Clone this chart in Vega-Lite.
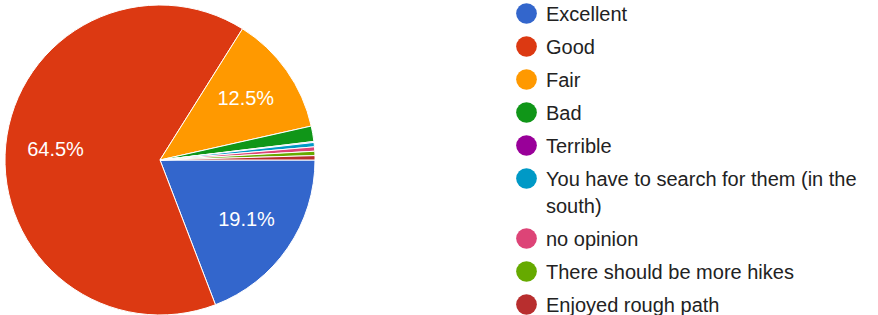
{
  "$schema": "https://vega.github.io/schema/vega-lite/v6.json",
  "width": 320,
  "height": 320,
  "padding": 0,
  "autosize": {"type": "pad"},
  "background": "white",
  "config": {
    "view": {"stroke": null},
    "style": {"guide-label": {"lineHeight": 27, "dy": 7}}
  },
  "data": {
    "values": [
      {"answer": "Excellent", "o": 1, "pct": 19.1, "label": "19.1%"},
      {"answer": "Good", "o": 2, "pct": 64.5, "label": "64.5%"},
      {"answer": "Fair", "o": 3, "pct": 12.5, "label": "12.5%"},
      {"answer": "Bad", "o": 4, "pct": 1.6, "label": ""},
      {"answer": "Terrible", "o": 5, "pct": 0.1, "label": ""},
      {"answer": "You have to search for them (in the south)", "o": 6, "pct": 0.45, "label": ""},
      {"answer": "no opinion", "o": 7, "pct": 0.45, "label": ""},
      {"answer": "There should be more hikes", "o": 8, "pct": 0.45, "label": ""},
      {"answer": "Enjoyed rough path", "o": 9, "pct": 0.45, "label": ""}
    ]
  },
  "encoding": {
    "theta": {"field": "pct", "type": "quantitative", "stack": true, "scale": {"range": [1.5708, 7.854]}},
    "order": {"field": "o", "type": "quantitative"}
  },
  "layer": [
    {
      "mark": {"type": "arc", "outerRadius": 155, "stroke": "white", "strokeWidth": 1},
      "encoding": {
        "color": {
          "field": "answer",
          "type": "nominal",
          "sort": null,
          "scale": {
            "domain": ["Excellent", "Good", "Fair", "Bad", "Terrible", "You have to search for them (in the south)", "no opinion", "There should be more hikes", "Enjoyed rough path"],
            "range": ["#3366cc", "#dc3912", "#ff9900", "#109618", "#990099", "#0099c6", "#dd4477", "#66aa00", "#b82e2e"]
          },
          "legend": {
            "title": null,
            "orient": "none",
            "legendX": 516,
            "legendY": 3,
            "symbolType": "circle",
            "symbolSize": 430,
            "symbolStrokeWidth": 0,
            "labelFont": "Liberation Sans",
            "labelFontSize": 20,
            "labelColor": "#222222",
            "labelOffset": 9,
            "labelLimit": 400,
            "labelBaseline": "alphabetic",
            "rowPadding": 11,
            "labelExpr": "datum.label == 'You have to search for them (in the south)' ? ['You have to search for them (in the', 'south)'] : datum.label",
            "encode": {"labels": {"update": {"lineHeight": {"value": 27}, "dy": {"value": 7}}}}
          }
        }
      }
    },
    {
      "mark": {"type": "text", "radius": 105, "font": "Liberation Sans", "fontSize": 20, "fill": "white"},
      "encoding": {"text": {"field": "label"}}
    }
  ]
}
